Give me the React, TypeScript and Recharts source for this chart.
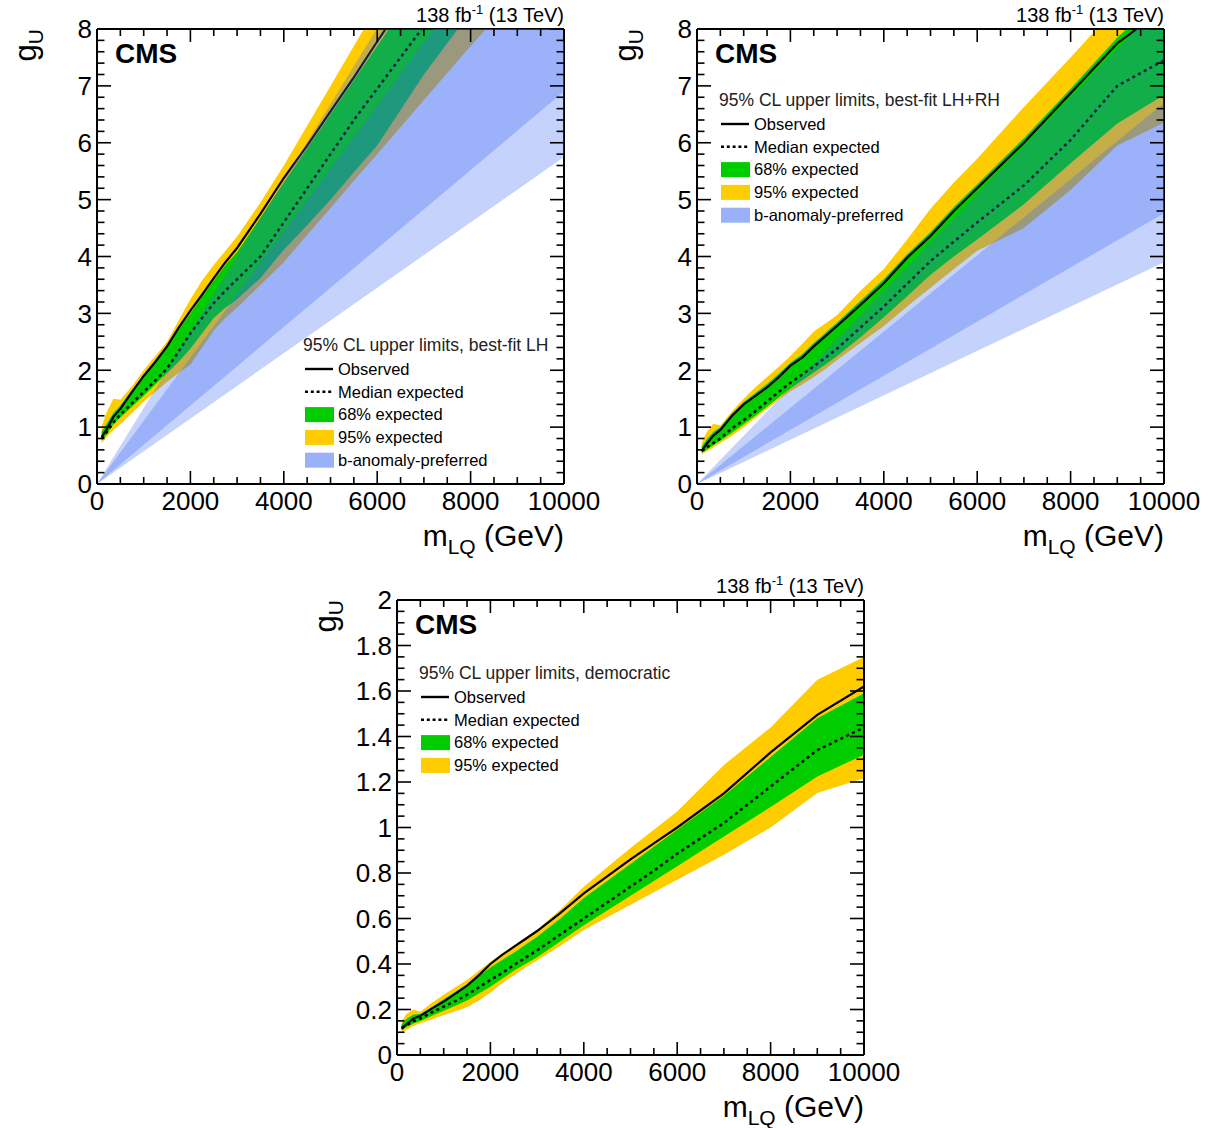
import React from 'react';
import { ComposedChart, Area, Line, XAxis, YAxis } from 'recharts';

const FONT = '"Liberation Sans", Arial, Helvetica, sans-serif';

// leptoquark mass grid (GeV)
const massGrid = [100, 200, 350, 500, 750, 1000, 1250, 1500, 1750, 2000, 2250, 2500, 2750, 3000, 3500, 4000, 4500, 5000, 5500, 6000, 7000, 8000, 9000, 10000];

// best-fit LH
const lhObserved = [0.83, 0.95, 1.18, 1.32, 1.62, 1.9, 2.15, 2.42, 2.75, 3.05, 3.33, 3.62, 3.9, 4.15, 4.75, 5.38, 5.95, 6.55, 7.15, 7.78, 9.0, 10.2, 11.4, 12.6];
const lhExpected = [0.8, 0.9, 1.08, 1.22, 1.42, 1.62, 1.82, 2.03, 2.33, 2.65, 2.92, 3.18, 3.4, 3.6, 4.0, 4.6, 5.2, 5.8, 6.4, 6.95, 8.05, 9.1, 10.2, 11.3];
const lh68Lo = [0.76, 0.86, 1.05, 1.17, 1.36, 1.55, 1.75, 1.95, 2.15, 2.38, 2.65, 2.92, 3.1, 3.25, 3.62, 4.12, 4.55, 5.0, 5.48, 5.95, 7.2, 8.3, 9.4, 10.5];
const lh68Hi = [0.92, 1.05, 1.25, 1.38, 1.65, 1.9, 2.15, 2.42, 2.72, 3.0, 3.3, 3.58, 3.85, 4.08, 4.68, 5.3, 5.9, 6.5, 7.1, 7.7, 8.9, 10.1, 11.3, 12.5];
const lh95Lo = [0.72, 0.82, 0.95, 1.05, 1.25, 1.45, 1.62, 1.8, 1.95, 2.1, 2.4, 2.7, 2.92, 3.1, 3.5, 3.9, 4.38, 4.85, 5.33, 5.8, 6.75, 7.7, 8.6, 9.6];
const lh95Hi = [1.02, 1.25, 1.5, 1.48, 1.72, 2.0, 2.25, 2.5, 2.88, 3.25, 3.58, 3.85, 4.1, 4.35, 4.95, 5.6, 6.3, 7.0, 7.7, 8.4, 9.8, 11.2, 12.6, 14.0];

// best-fit LH+RH
const lrObserved = [0.58, 0.7, 0.85, 0.95, 1.2, 1.4, 1.55, 1.7, 1.88, 2.08, 2.22, 2.42, 2.6, 2.78, 3.15, 3.53, 3.98, 4.36, 4.8, 5.2, 6.0, 6.87, 7.75, 8.35];
const lrExpected = [0.58, 0.64, 0.72, 0.8, 0.98, 1.12, 1.28, 1.45, 1.62, 1.78, 1.92, 2.07, 2.22, 2.38, 2.75, 3.12, 3.52, 3.92, 4.26, 4.6, 5.25, 6.05, 7.0, 7.45];
const lr68Lo = [0.55, 0.6, 0.68, 0.76, 0.9, 1.05, 1.2, 1.36, 1.52, 1.68, 1.82, 1.96, 2.1, 2.25, 2.58, 2.93, 3.3, 3.68, 4.0, 4.3, 4.92, 5.64, 6.34, 6.84];
const lr68Hi = [0.65, 0.78, 0.92, 1.0, 1.24, 1.44, 1.6, 1.76, 1.94, 2.13, 2.28, 2.48, 2.66, 2.84, 3.22, 3.6, 4.04, 4.43, 4.87, 5.27, 6.08, 6.95, 7.85, 8.6];
const lr95Lo = [0.52, 0.57, 0.64, 0.72, 0.85, 1.0, 1.16, 1.32, 1.48, 1.63, 1.75, 1.88, 2.02, 2.18, 2.48, 2.78, 3.12, 3.45, 3.78, 4.1, 4.5, 5.17, 5.95, 6.35];
const lr95Hi = [0.72, 0.9, 1.06, 1.03, 1.28, 1.5, 1.7, 1.88, 2.06, 2.25, 2.46, 2.68, 2.82, 2.97, 3.4, 3.78, 4.3, 4.84, 5.3, 5.72, 6.63, 7.5, 8.4, 9.3];

// democratic
const dmObserved = [0.115, 0.135, 0.16, 0.172, 0.205, 0.235, 0.27, 0.305, 0.35, 0.4, 0.44, 0.475, 0.51, 0.545, 0.625, 0.71, 0.785, 0.86, 0.93, 1.0, 1.15, 1.33, 1.495, 1.62];
const dmExpected = [0.12, 0.13, 0.148, 0.16, 0.188, 0.213, 0.237, 0.265, 0.297, 0.33, 0.36, 0.395, 0.428, 0.46, 0.53, 0.6, 0.67, 0.74, 0.81, 0.885, 1.02, 1.18, 1.34, 1.44];
const dm68Lo = [0.11, 0.122, 0.138, 0.15, 0.172, 0.195, 0.217, 0.24, 0.27, 0.3, 0.335, 0.37, 0.4, 0.43, 0.5, 0.57, 0.635, 0.7, 0.765, 0.83, 0.96, 1.09, 1.224, 1.32];
const dm68Hi = [0.135, 0.158, 0.178, 0.18, 0.21, 0.245, 0.278, 0.31, 0.348, 0.385, 0.418, 0.45, 0.485, 0.52, 0.6, 0.69, 0.765, 0.84, 0.915, 0.99, 1.14, 1.31, 1.48, 1.59];
const dm95Lo = [0.1, 0.11, 0.128, 0.14, 0.157, 0.175, 0.192, 0.21, 0.24, 0.275, 0.315, 0.35, 0.385, 0.415, 0.48, 0.55, 0.605, 0.66, 0.715, 0.77, 0.88, 1.0, 1.152, 1.216];
const dm95Hi = [0.15, 0.18, 0.2, 0.19, 0.23, 0.265, 0.298, 0.33, 0.37, 0.41, 0.445, 0.48, 0.515, 0.55, 0.64, 0.74, 0.825, 0.91, 0.99, 1.07, 1.275, 1.44, 1.65, 1.75];

// b-anomaly-preferred bands (straight from the origin)
const bandMass = [0, 10000];
const lhOuterLo = [0, 5.75];
const lhOuterHi = [0, 13.36];
const lhInnerLo = [0, 6.9];
const lhInnerHi = [0, 11.1];
const lrOuterLo = [0, 3.9];
const lrOuterHi = [0, 8.5];
const lrInnerLo = [0, 4.76];
const lrInnerHi = [0, 6.7];

const xTicks = Array.from({ length: 21 }, (_, i) => i * 500);
const yTicks8 = Array.from({ length: 41 }, (_, i) => i / 5);
const yTicks2 = Array.from({ length: 41 }, (_, i) => i / 20);

const buildLimits = (obs: number[], exp: number[], lo68: number[], hi68: number[], lo95: number[], hi95: number[]) =>
  massGrid.map((m, i) => ({ m, obs: obs[i], exp: exp[i], b68: [lo68[i], hi68[i]], b95: [lo95[i], hi95[i]] }));

const buildBand = (oLo: number[], oHi: number[], iLo: number[], iHi: number[]) =>
  bandMass.map((m, i) => ({ m, outer: [oLo[i], oHi[i]], inner: [iLo[i], iHi[i]] }));

const lhData = buildLimits(lhObserved, lhExpected, lh68Lo, lh68Hi, lh95Lo, lh95Hi);
const lrData = buildLimits(lrObserved, lrExpected, lr68Lo, lr68Hi, lr95Lo, lr95Hi);
const dmData = buildLimits(dmObserved, dmExpected, dm68Lo, dm68Hi, dm95Lo, dm95Hi);
const lhBand = buildBand(lhOuterLo, lhOuterHi, lhInnerLo, lhInnerHi);
const lrBand = buildBand(lrOuterLo, lrOuterHi, lrInnerLo, lrInnerHi);

const isMajor = (v: number, step: number) => Math.abs(v / step - Math.round(v / step)) < 1e-6;
const fmt = (v: number) => parseFloat(v.toFixed(2)).toString();

const frame = { stroke: '#000', strokeWidth: 2 };

const makeTick = (side: 'left' | 'right' | 'top' | 'bottom', step: number) => (p: any) => {
  const { x, y, payload } = p;
  const v = payload.value as number;
  const major = isMajor(v, step);
  const len = side === 'left' || side === 'right' ? (major ? 14 : 7.5) : major ? 13 : 7;
  let x2 = x, y2 = y;
  if (side === 'left') x2 = x + len;
  if (side === 'right') x2 = x - len;
  if (side === 'bottom') y2 = y - len;
  if (side === 'top') y2 = y + len;
  return (
    <g>
      <line x1={x} y1={y} x2={x2} y2={y2} stroke="#000" strokeWidth={1.6} />
      {major && side === 'left' && (
        <text x={x - 5} y={y} dy="0.36em" textAnchor="end" fontSize={26} fontFamily={FONT} fill="#000">{fmt(v)}</text>
      )}
      {major && side === 'bottom' && (
        <text x={x} y={y + 26} textAnchor="middle" fontSize={26} fontFamily={FONT} fill="#000">{fmt(v)}</text>
      )}
    </g>
  );
};

interface PanelProps {
  left: number;
  top: number;
  limits: any[];
  band?: any[];
  yMax: number;
  yTicks: number[];
  yStep: number;
}

const LimitPanel: React.FC<PanelProps> = ({ left, top, limits, band, yMax, yTicks, yStep }) => (
  <div style={{ position: 'absolute', left, top }}>
    <ComposedChart width={600} height={560} data={limits} margin={{ top: 19, right: 26, bottom: 46, left: 47 }}>
      <XAxis xAxisId="b" dataKey="m" type="number" domain={[0, 10000]} ticks={xTicks} interval={0} allowDataOverflow
        height={30} tickSize={0} tickMargin={0} axisLine={frame} tickLine={false} tick={makeTick('bottom', 2000)} />
      <XAxis xAxisId="t" dataKey="m" orientation="top" type="number" domain={[0, 10000]} ticks={xTicks} interval={0} allowDataOverflow
        height={10} tickSize={0} tickMargin={0} axisLine={frame} tickLine={false} tick={makeTick('top', 2000)} />
      <YAxis yAxisId="l" type="number" domain={[0, yMax]} ticks={yTicks} interval={0} allowDataOverflow
        width={50} tickSize={0} tickMargin={0} axisLine={frame} tickLine={false} tick={makeTick('left', yStep)} />
      <YAxis yAxisId="r" orientation="right" type="number" domain={[0, yMax]} ticks={yTicks} interval={0} allowDataOverflow
        width={10} tickSize={0} tickMargin={0} axisLine={frame} tickLine={false} tick={makeTick('right', yStep)} />
      <Area xAxisId="b" yAxisId="l" type="linear" dataKey="b95" stroke="none" fill="#ffcc00" fillOpacity={1}
        dot={false} activeDot={false} isAnimationActive={false} />
      <Area xAxisId="b" yAxisId="l" type="linear" dataKey="b68" stroke="none" fill="#00cc00" fillOpacity={1}
        dot={false} activeDot={false} isAnimationActive={false} />
      <Line xAxisId="b" yAxisId="l" type="linear" dataKey="exp" stroke="#000" strokeWidth={2.5} strokeDasharray="3 3.5"
        dot={false} activeDot={false} isAnimationActive={false} />
      <Line xAxisId="b" yAxisId="l" type="linear" dataKey="obs" stroke="#000" strokeWidth={2.2}
        dot={false} activeDot={false} isAnimationActive={false} />
      {band && (
        <Area xAxisId="b" yAxisId="l" data={band} type="linear" dataKey="outer" stroke="none" fill="#3a69f5" fillOpacity={0.3}
          dot={false} activeDot={false} isAnimationActive={false} zIndex={500} />
      )}
      {band && (
        <Area xAxisId="b" yAxisId="l" data={band} type="linear" dataKey="inner" stroke="none" fill="#3a69f5" fillOpacity={0.3}
          dot={false} activeDot={false} isAnimationActive={false} zIndex={500} />
      )}
    </ComposedChart>
  </div>
);

type LegendRow = { label: string; kind: 'line' | 'dots' | 'box'; color: string };
const legendRows: LegendRow[] = [
  { label: 'Observed', kind: 'line', color: '#000' },
  { label: 'Median expected', kind: 'dots', color: '#000' },
  { label: '68% expected', kind: 'box', color: '#00cc00' },
  { label: '95% expected', kind: 'box', color: '#ffcc00' },
  { label: 'b-anomaly-preferred', kind: 'box', color: '#99b1f8' },
];

const LegendBlock = ({ x, y, title, rows }: { x: number; y: number; title: string; rows: LegendRow[] }) => (
  <g>
    <text x={x} y={y} dy="0.35em" fontSize={17.5} fontFamily={FONT} fill="#222">{title}</text>
    {rows.map((r, i) => {
      const cy = y + 24 + i * 22.8;
      return (
        <g key={r.label}>
          {r.kind === 'line' && <line x1={x + 2} x2={x + 30} y1={cy} y2={cy} stroke="#000" strokeWidth={2.4} />}
          {r.kind === 'dots' && <line x1={x + 2} x2={x + 30} y1={cy} y2={cy} stroke="#000" strokeWidth={2.4} strokeDasharray="3 2.8" />}
          {r.kind === 'box' && <rect x={x + 2} y={cy - 7.5} width={29} height={15} fill={r.color} />}
          <text x={x + 35} y={cy} dy="0.35em" fontSize={16.5} fontFamily={FONT} fill="#000">{r.label}</text>
        </g>
      );
    })}
  </g>
);

const PanelLabels = ({ ox, oy }: { ox: number; oy: number }) => (
  <g>
    <text x={115 + ox} y={63 + oy} fontSize={28} fontWeight="bold" fontFamily={FONT} fill="#000">CMS</text>
    <text x={564 + ox} y={22 + oy} textAnchor="end" fontSize={20} fontFamily={FONT} fill="#000">
      138 fb<tspan fontSize={13} dy={-8}>-1</tspan><tspan dy={8}> (13 TeV)</tspan>
    </text>
    <text x={564 + ox} y={546 + oy} textAnchor="end" fontSize={30} fontFamily={FONT} fill="#000">
      m<tspan fontSize={21} dy={8}>LQ</tspan><tspan dy={-8}> (GeV)</tspan>
    </text>
    <text transform={`translate(${36 + ox},${29 + oy}) rotate(-90)`} textAnchor="end" fontSize={31} fontFamily={FONT} fill="#000">
      g<tspan fontSize={21} dy={7}>U</tspan>
    </text>
  </g>
);

const App: React.FC = () => (
  <div style={{ position: 'absolute', left: 0, top: 0, width: 1215, height: 1128, background: '#fff', overflow: 'hidden' }}>
    <LimitPanel left={0} top={0} limits={lhData} band={lhBand} yMax={8} yTicks={yTicks8} yStep={1} />
    <LimitPanel left={600} top={0} limits={lrData} band={lrBand} yMax={8} yTicks={yTicks8} yStep={1} />
    <LimitPanel left={300} top={571} limits={dmData} yMax={2} yTicks={yTicks2} yStep={0.2} />
    <svg width={1215} height={1128} style={{ position: 'absolute', left: 0, top: 0, pointerEvents: 'none' }}>
      <PanelLabels ox={0} oy={0} />
      <PanelLabels ox={600} oy={0} />
      <PanelLabels ox={300} oy={571} />
      <LegendBlock x={303} y={345} title="95% CL upper limits, best-fit LH" rows={legendRows} />
      <LegendBlock x={719} y={100} title="95% CL upper limits, best-fit LH+RH" rows={legendRows} />
      <LegendBlock x={419} y={673} title="95% CL upper limits, democratic" rows={legendRows.slice(0, 4)} />
    </svg>
  </div>
);

export default App;
